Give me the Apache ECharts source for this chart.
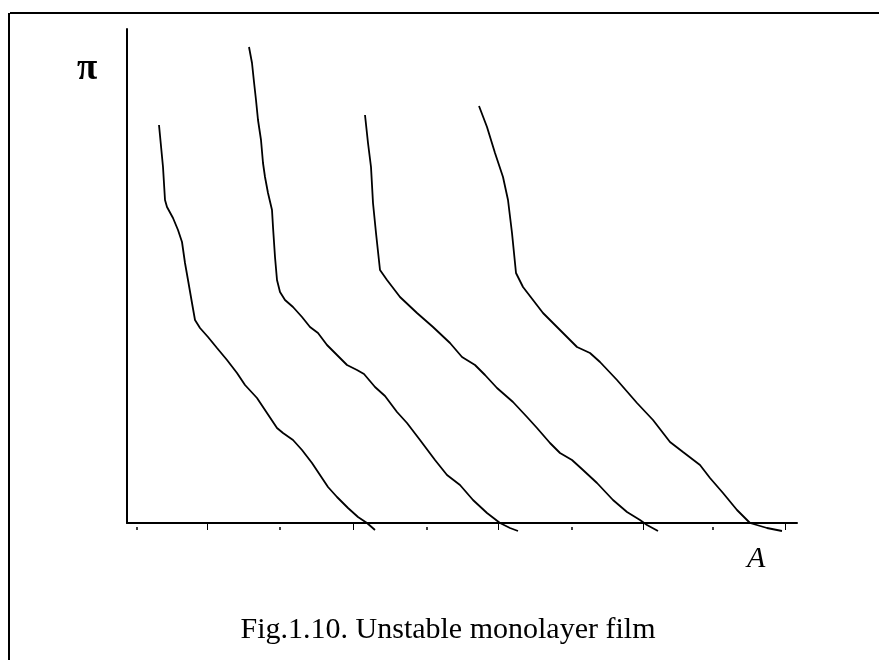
<!DOCTYPE html>
<html>
<head>
<meta charset="utf-8">
<script src="https://cdn.jsdelivr.net/npm/echarts@6/dist/echarts.min.js"></script>
<style>
  html, body { margin: 0; padding: 0; background: #fff; }
  #chart { width: 879px; height: 660px; }
</style>
</head>
<body>
<div id="chart"></div>
<script>
// pi-A isotherms, four successive compressions (arbitrary units)
const curve1 = [
  [32, 398], [36, 356], [38, 323], [40, 316], [46, 305], [51, 293], [55, 281],
  [58, 260], [61, 243], [65, 220], [68, 203], [73, 195], [81, 186], [90, 175],
  [100, 163], [110, 150], [118, 138], [130, 125], [140, 110], [150, 95], [156, 90],
  [166, 83], [175, 73], [185, 60], [195, 45], [201, 36], [210, 26], [221, 15],
  [231, 6], [240, 0], [248, -7]
]
const curve2 = [
  [122, 476], [125, 460], [127, 441], [129, 423], [131, 403], [134, 383], [136, 360],
  [138, 346], [141, 330], [145, 313], [146, 296], [148, 266], [150, 243], [153, 231],
  [158, 223], [166, 216], [175, 206], [183, 196], [191, 190], [200, 178], [210, 168],
  [220, 158], [230, 153], [237, 149], [248, 136], [258, 127], [270, 111], [280, 100],
  [293, 83], [308, 63], [320, 48], [333, 38], [346, 23], [360, 10], [373, 0],
  [383, -5], [391, -8]
]
const curve3 = [
  [238, 408], [241, 380], [244, 356], [246, 320], [249, 290], [253, 253], [260, 243],
  [273, 226], [290, 210], [306, 196], [323, 180], [335, 166], [348, 158], [358, 148],
  [370, 135], [386, 121], [400, 106], [410, 95], [423, 80], [433, 70], [445, 63],
  [456, 53], [470, 40], [486, 23], [500, 11], [513, 3], [520, -2], [531, -8]
]
const curve4 = [
  [352, 417], [360, 396], [368, 370], [376, 346], [381, 323], [385, 290], [389, 250],
  [396, 236], [416, 210], [426, 200], [450, 176], [463, 170], [473, 161], [490, 143],
  [510, 120], [526, 103], [543, 81], [556, 71], [573, 58], [583, 45], [596, 30],
  [610, 13], [623, 0], [640, -5], [655, -8]
]
// tick marks along A: short ticks and the dots in between
const majorTicks = [80, 226, 371, 516, 658]
const minorTicks = [10, 153, 300, 445, 586]

const chart = echarts.init(document.getElementById('chart'))
const serif = '"Liberation Serif", "Times New Roman", serif'

const lineSeries = [curve1, curve2, curve3, curve4].map((d, i) => ({
  name: 'run' + (i + 1),
  type: 'line',
  data: d,
  showSymbol: false,
  clip: false, // tails run a little under the axis
  lineStyle: { color: '#000', width: 1.8 },
  silent: true
}))

chart.setOption({
  backgroundColor: '#fff',
  animation: false,
  title: {
    text: 'Fig.1.10. Unstable monolayer film',
    left: 443,
    top: 610,
    textAlign: 'center',
    textStyle: { fontFamily: serif, fontSize: 30, fontWeight: 'normal', color: '#000' }
  },
  grid: { left: 127, right: 82, top: 29, bottom: 137 },
  xAxis: [
    {
      type: 'value',
      min: 0,
      max: 670,
      axisLine: { show: true, onZero: false, lineStyle: { color: '#000', width: 2 } },
      axisTick: { show: true, customValues: majorTicks, length: 7, lineStyle: { color: '#000', width: 1 } },
      axisLabel: { show: false },
      splitLine: { show: false }
    },
    {
      type: 'value',
      min: 0,
      max: 670,
      position: 'bottom',
      axisLine: { show: false },
      axisTick: { show: true, customValues: minorTicks, length: 7, lineStyle: { color: '#000', width: 1.5, type: [0, 4, 3] } },
      axisLabel: { show: false },
      splitLine: { show: false }
    }
  ],
  yAxis: {
    type: 'value',
    min: 0,
    max: 494,
    axisLine: { show: true, onZero: false, lineStyle: { color: '#000', width: 2 } },
    axisTick: { show: false },
    axisLabel: { show: false },
    splitLine: { show: false }
  },
  graphic: [
    // page frame, top and left edges
    { type: 'line', shape: { x1: 10, y1: 13, x2: 879, y2: 13 }, style: { stroke: '#000', lineWidth: 2 } },
    { type: 'line', shape: { x1: 9, y1: 13, x2: 9, y2: 660 }, style: { stroke: '#000', lineWidth: 2 } },
    {
      type: 'text', left: 77, top: 51,
      style: { text: 'π', font: 'bold 37px ' + serif, fill: '#000' }
    },
    {
      type: 'text', left: 747, top: 544,
      style: { text: 'A', font: 'italic 30px ' + serif, fill: '#000' }
    }
  ],
  series: lineSeries
})
</script>
</body>
</html>
